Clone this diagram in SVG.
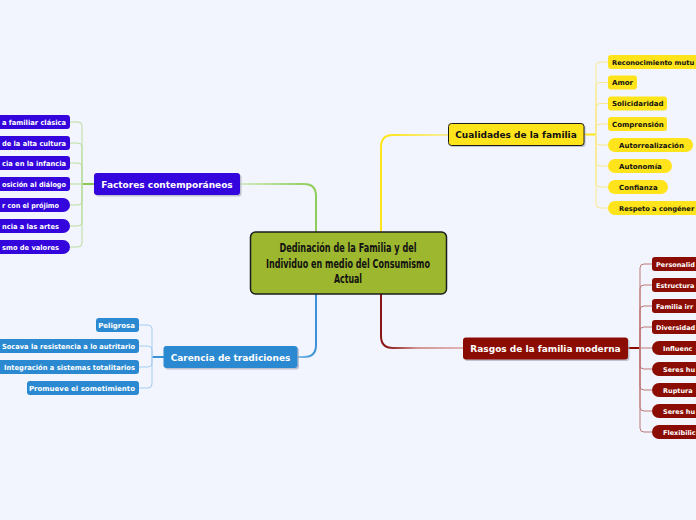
<svg xmlns="http://www.w3.org/2000/svg" width="696" height="520" viewBox="0 0 696 520">
<defs>
<style>
.bg{fill:#f2f5fd}
.main{font-family:"DejaVu Sans",Verdana,sans-serif;font-weight:bold;font-size:9px;text-anchor:middle}
.ch{font-family:"DejaVu Sans",Verdana,sans-serif;font-weight:bold;font-size:7px}
.sm{font-size:6.5px}
.sm2{font-size:6.7px}
.w{fill:#ffffff}
.k{fill:#111111}
.end{text-anchor:end}
.shadow{fill:#a9adbd;opacity:0.7}
.vio{fill:#3405dc}
.blu{fill:#2a89d1}
.yel{fill:#ffe41c}
.red{fill:#8b0c02}
.sg{fill:none;stroke:#b9dd9f;stroke-width:1}
.sb{fill:none;stroke:#a6cdee;stroke-width:1}
.sy{fill:none;stroke:#f9ea8e;stroke-width:1}
.sr{fill:none;stroke:#bf7878;stroke-width:1}
.ctr{font-family:"DejaVu Sans Condensed","DejaVu Sans",sans-serif;font-weight:bold;font-size:12.5px;text-anchor:middle;fill:#111111}
</style>
<linearGradient id="gG" gradientUnits="userSpaceOnUse" x1="240" y1="0" x2="312" y2="0"><stop offset="0" stop-color="#d3ebc3"/><stop offset="1" stop-color="#8fcd5a"/></linearGradient>
<linearGradient id="gB" gradientUnits="userSpaceOnUse" x1="297" y1="0" x2="314" y2="0"><stop offset="0" stop-color="#8cc2ec"/><stop offset="1" stop-color="#3a93d8"/></linearGradient>
<linearGradient id="gY" gradientUnits="userSpaceOnUse" x1="448" y1="0" x2="386" y2="0"><stop offset="0" stop-color="#f7ed9e"/><stop offset="1" stop-color="#ffe41c"/></linearGradient>
<linearGradient id="gR" gradientUnits="userSpaceOnUse" x1="463" y1="0" x2="386" y2="0"><stop offset="0" stop-color="#e2b4b4"/><stop offset="0.6" stop-color="#d39494"/><stop offset="1" stop-color="#8b1414"/></linearGradient>
</defs>
<rect class="bg" x="0" y="0" width="696" height="520"/>

<g id="connectors">
<path d="M316,232 V196 Q316,184 304,184 H240" fill="none" stroke="url(#gG)" stroke-width="2"/>
<path d="M316,294 V345 Q316,357 304,357 H297" fill="none" stroke="url(#gB)" stroke-width="2"/>
<path d="M381,232 V147 Q381,135 393,135 H448" fill="none" stroke="url(#gY)" stroke-width="2"/>
<path d="M381,294 V336 Q381,348 393,348 H463" fill="none" stroke="url(#gR)" stroke-width="2"/>

<path d="M94,184 H82" fill="none" stroke="#8cc850" stroke-width="2"/>
<path class="sg" d="M82,184 V126 Q82,122 78,122 H70"/>
<path class="sg" d="M82,184 V147 Q82,143 78,143 H70"/>
<path class="sg" d="M82,184 V167 Q82,163 78,163 H70"/>
<path class="sg" d="M82,184 H70"/>
<path class="sg" d="M82,184 V201 Q82,205 78,205 H70"/>
<path class="sg" d="M82,184 V222 Q82,226 78,226 H70"/>
<path class="sg" d="M82,184 V243 Q82,247 78,247 H70"/>

<path d="M164,357 H152" fill="none" stroke="#3a93d8" stroke-width="2"/>
<path class="sb" d="M152,357 V329 Q152,325 148,325 H139"/>
<path class="sb" d="M152,357 V350 Q152,346 148,346 H139"/>
<path class="sb" d="M152,357 V363 Q152,367 148,367 H139"/>
<path class="sb" d="M152,357 V384 Q152,388 148,388 H139"/>

<path d="M584,134.5 H596" fill="none" stroke="#ffe41c" stroke-width="2"/>
<path class="sy" d="M596,134.5 V66 Q596,62 600,62 H608"/>
<path class="sy" d="M596,134.5 V86.5 Q596,82.5 600,82.5 H608"/>
<path class="sy" d="M596,134.5 V107.5 Q596,103.5 600,103.5 H608"/>
<path class="sy" d="M596,134.5 V128 Q596,124 600,124 H608"/>
<path class="sy" d="M596,134.5 V141 Q596,145 600,145 H608"/>
<path class="sy" d="M596,134.5 V162 Q596,166 600,166 H608"/>
<path class="sy" d="M596,134.5 V183 Q596,187 600,187 H608"/>
<path class="sy" d="M596,134.5 V204 Q596,208 600,208 H608"/>

<path d="M628,348 H640" fill="none" stroke="#8b0c02" stroke-width="2"/>
<path class="sr" d="M640,348 V268 Q640,264 644,264 H652"/>
<path class="sr" d="M640,348 V289 Q640,285 644,285 H652"/>
<path class="sr" d="M640,348 V310 Q640,306 644,306 H652"/>
<path class="sr" d="M640,348 V331 Q640,327 644,327 H652"/>
<path class="sr" d="M640,348 H652"/>
<path class="sr" d="M640,348 V365 Q640,369 644,369 H652"/>
<path class="sr" d="M640,348 V386 Q640,390 644,390 H652"/>
<path class="sr" d="M640,348 V407 Q640,411 644,411 H652"/>
<path class="sr" d="M640,348 V428 Q640,432 644,432 H652"/>
</g>

<g id="central">
<rect x="250.5" y="232" width="196" height="62" rx="5" fill="#9db72f" stroke="#1c1c1c" stroke-width="1.5"/>
<text class="ctr" x="348" y="252" textLength="137" lengthAdjust="spacingAndGlyphs">Dedinación de la Familia y del</text>
<text class="ctr" x="348" y="267.5" textLength="164" lengthAdjust="spacingAndGlyphs">Individuo en medio del Consumismo</text>
<text class="ctr" x="348" y="283" textLength="28" lengthAdjust="spacingAndGlyphs">Actual</text>
</g>

<g id="factores">
<rect class="shadow" x="95.5" y="174.5" width="146" height="22" rx="3"/>
<rect class="vio" x="94" y="173" width="146" height="22" rx="3"/>
<text class="main w" x="167" y="187.5">Factores contemporáneos</text>
</g>
<g id="factores-children">
<rect class="vio" x="-10" y="115" width="80" height="14" rx="3"/><text class="ch w end" x="66" y="124.5" textLength="64" lengthAdjust="spacingAndGlyphs">a familiar clásica</text>
<rect class="vio" x="-10" y="136" width="80" height="14" rx="3"/><text class="ch w end" x="66" y="145.5" textLength="64" lengthAdjust="spacingAndGlyphs">de la alta cultura</text>
<rect class="vio" x="-10" y="156" width="80" height="14" rx="3"/><text class="ch w end" x="66" y="165.5" textLength="64" lengthAdjust="spacingAndGlyphs">cia en la infancia</text>
<rect class="vio" x="-10" y="177" width="80" height="14" rx="3"/><text class="ch w end" x="66" y="186.5" textLength="64" lengthAdjust="spacingAndGlyphs">osición al diálogo</text>
<rect class="vio" x="-30" y="198" width="100" height="14" rx="7"/><text class="ch w end" x="59" y="207.5" textLength="57" lengthAdjust="spacingAndGlyphs">r con el prójimo</text>
<rect class="vio" x="-30" y="219" width="100" height="14" rx="7"/><text class="ch w end" x="59" y="228.5" textLength="57" lengthAdjust="spacingAndGlyphs">ncia a las artes</text>
<rect class="vio" x="-30" y="240" width="100" height="14" rx="7"/><text class="ch w end" x="59" y="249.5" textLength="57" lengthAdjust="spacingAndGlyphs">smo de valores</text>
</g>

<g id="carencia">
<rect class="shadow" x="165" y="347.5" width="134" height="22" rx="3"/>
<rect class="blu" x="163.5" y="346" width="134" height="22" rx="3"/>
<text class="main w" x="230.5" y="360.5">Carencia de tradiciones</text>
</g>
<g id="carencia-children">
<rect class="blu" x="96" y="318" width="43" height="14" rx="3"/><text class="ch w end" x="135" y="327.5">Peligrosa</text>
<rect class="blu" x="-10" y="339" width="149" height="14" rx="3"/><text class="ch w end" x="135" y="348.5" textLength="133" lengthAdjust="spacingAndGlyphs">Socava la resistencia a lo autritario</text>
<rect class="blu" x="-10" y="360" width="149" height="14" rx="3"/><text class="ch w end" x="135" y="369.5" textLength="131" lengthAdjust="spacingAndGlyphs">Integración a sistemas totalitarios</text>
<rect class="blu" x="27" y="381" width="112" height="14" rx="3"/><text class="ch w end" x="135" y="390.5">Promueve el sometimiento</text>
</g>

<g id="cualidades">
<rect class="shadow" x="449.5" y="125" width="136" height="22" rx="3"/>
<rect class="yel" x="448.5" y="123.5" width="135.5" height="22" rx="3" stroke="#1c1c1c" stroke-width="1"/>
<text class="main k" x="516" y="138">Cualidades de la familia</text>
</g>
<g id="cualidades-children">
<rect class="yel" x="608" y="55" width="110" height="14" rx="3"/><text class="ch sm2 k" x="612" y="64.5">Reconocimiento mutu</text>
<rect class="yel" x="608" y="75.5" width="29" height="14" rx="3"/><text class="ch k" x="612" y="85">Amor</text>
<rect class="yel" x="608" y="96.5" width="59" height="14" rx="3"/><text class="ch k" x="612" y="106">Solicidaridad</text>
<rect class="yel" x="608" y="117" width="59" height="14" rx="3"/><text class="ch k" x="612" y="126.5">Comprensión</text>
<rect class="yel" x="608" y="138" width="85" height="14" rx="7"/><text class="ch k" x="619" y="147.5">Autorrealización</text>
<rect class="yel" x="608" y="159" width="64" height="14" rx="7"/><text class="ch k" x="619" y="168.5">Autonomía</text>
<rect class="yel" x="608" y="180" width="60" height="14" rx="7"/><text class="ch k" x="619" y="189.5">Confianza</text>
<rect class="yel" x="608" y="201" width="110" height="14" rx="7"/><text class="ch sm2 k" x="619" y="210.5">Respeto a congéner</text>
</g>

<g id="rasgos">
<rect class="shadow" x="464.5" y="339" width="165" height="22" rx="3"/>
<rect class="red" x="463" y="337.5" width="165" height="22" rx="3"/>
<text class="main w" x="545.5" y="352">Rasgos de la familia moderna</text>
</g>
<g id="rasgos-children">
<rect class="red" x="652" y="257" width="70" height="14" rx="3"/><text class="ch sm w" x="656" y="266.5">Personalid</text>
<rect class="red" x="652" y="278" width="70" height="14" rx="3"/><text class="ch sm w" x="656" y="287.5">Estructura</text>
<rect class="red" x="652" y="299" width="70" height="14" rx="3"/><text class="ch sm w" x="656" y="308.5">Familia irr</text>
<rect class="red" x="652" y="320" width="70" height="14" rx="3"/><text class="ch sm w" x="656" y="329.5">Diversidad</text>
<rect class="red" x="652" y="341" width="70" height="14" rx="7"/><text class="ch sm w" x="663" y="350.5">Influenc</text>
<rect class="red" x="652" y="362" width="70" height="14" rx="7"/><text class="ch sm w" x="663" y="371.5">Seres hu</text>
<rect class="red" x="652" y="383" width="70" height="14" rx="7"/><text class="ch sm w" x="663" y="392.5">Ruptura</text>
<rect class="red" x="652" y="404" width="70" height="14" rx="7"/><text class="ch sm w" x="663" y="413.5">Seres hu</text>
<rect class="red" x="652" y="425" width="70" height="14" rx="7"/><text class="ch sm w" x="663" y="434.5">Flexibilic</text>
</g>
</svg>
